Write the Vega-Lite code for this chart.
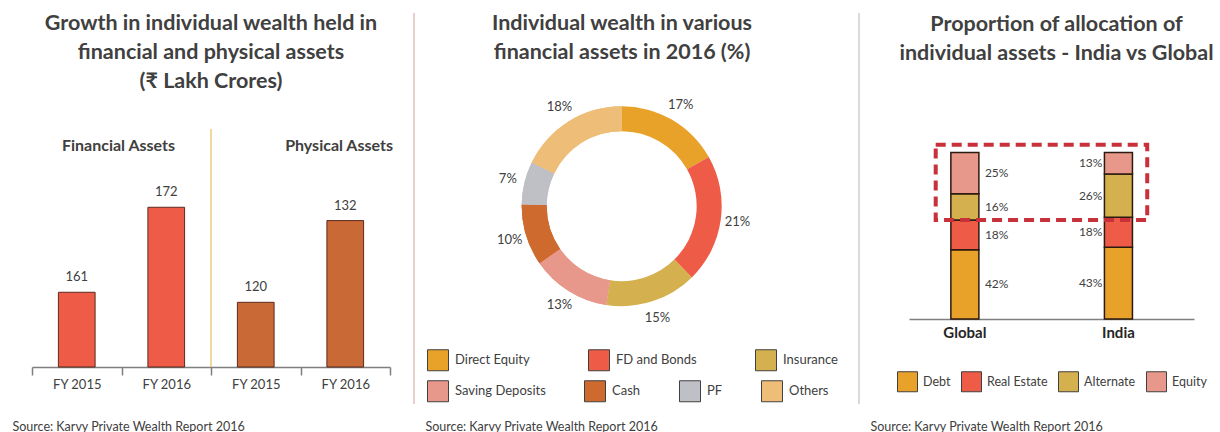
{
  "$schema": "https://vega.github.io/schema/vega-lite/v6.json",
  "background": "white",
  "padding": {"left": 12, "top": 12, "right": 0, "bottom": 0},
  "bounds": "flush",
  "spacing": 24,
  "config": {
    "view": {"stroke": null},
    "font": "Lato",
    "title": {"font": "Lato", "fontSize": 21.5, "fontWeight": "bold", "color": "#404040", "lineHeight": 29, "anchor": "middle", "frame": "group", "baseline": "top"}
  },
  "resolve": {"scale": {"color": "independent", "fill": "independent", "x": "independent", "y": "independent"}, "legend": {"color": "independent", "fill": "independent"}},
  "hconcat": [
    {
      "width": 358,
      "height": 354,
      "title": {"text": ["Growth in individual wealth held in", "financial and physical assets", "(₹ Lakh Crores)"], "offset": -79},
      "data": {"values": [
        {"group": "Financial", "key": "Financial|FY 2015", "value": 161},
        {"group": "Financial", "key": "Financial|FY 2016", "value": 172},
        {"group": "Physical", "key": "Physical|FY 2015", "value": 120},
        {"group": "Physical", "key": "Physical|FY 2016", "value": 132}
      ]},
      "encoding": {
        "x": {
          "field": "key", "type": "nominal",
          "scale": {"domain": ["Financial|FY 2015", "Financial|FY 2016", "Physical|FY 2015", "Physical|FY 2016"], "paddingInner": 0, "paddingOuter": 0},
          "axis": {
            "title": "Source: Karvy Private Wealth Report 2016",
            "titleFontSize": 12.5, "titleFontWeight": "normal", "titleColor": "#404040",
            "titleAnchor": "start", "titleAlign": "left", "titleBaseline": "middle", "titleX": -20, "titleY": 59,
            "labelExpr": "split(datum.label, '|')[1]", "labelFontSize": 13, "labelColor": "#404040", "labelPadding": 3, "labelAngle": 0,
            "domainColor": "#7f7f7f", "domainWidth": 1.5, "tickColor": "#7f7f7f", "tickWidth": 1.5, "tickSize": 8, "tickBand": "extent", "grid": false
          }
        }
      },
      "layer": [
        {
          "transform": [{"filter": "datum.group == 'Financial'"}],
          "encoding": {"y": {"field": "value", "type": "quantitative", "scale": {"domain": [151.33, 197.14], "zero": false, "nice": false}, "axis": null}},
          "layer": [
            {"mark": {"type": "bar", "width": {"band": 0.41}, "color": "#EE5B47", "stroke": "#5a2b1e", "strokeWidth": 1}, "encoding": {"y2": {"datum": 151.33}}},
            {"mark": {"type": "text", "baseline": "bottom", "dy": -8, "fontSize": 13, "color": "#404040"}, "encoding": {"text": {"field": "value", "type": "quantitative"}}}
          ]
        },
        {
          "transform": [{"filter": "datum.group == 'Physical'"}],
          "encoding": {"y": {"field": "value", "type": "quantitative", "scale": {"domain": [110.5, 162.48], "zero": false, "nice": false}, "axis": null}},
          "layer": [
            {"mark": {"type": "bar", "width": {"band": 0.41}, "color": "#C96A36", "stroke": "#5a2b1e", "strokeWidth": 1}, "encoding": {"y2": {"datum": 110.5}}},
            {"mark": {"type": "text", "baseline": "bottom", "dy": -8, "fontSize": 13, "color": "#404040"}, "encoding": {"text": {"field": "value", "type": "quantitative"}}}
          ]
        },
        {
          "layer": [
            {
              "data": {"values": [{"key": "Physical|FY 2015"}]},
              "mark": {"type": "rule", "color": "#E0B040", "strokeWidth": 1},
              "encoding": {
                "x": {"field": "key", "type": "nominal", "bandPosition": 0},
                "y": {"datum": 151.33, "scale": {"domain": [151.33, 197.14], "zero": false, "nice": false}, "axis": null},
                "y2": {"datum": 182.13}
              }
            },
            {
              "data": {"values": [{"heading": "Financial Assets", "key": "Financial|FY 2016"}]},
              "mark": {"type": "text", "fontSize": 16, "fontWeight": "bold", "color": "#404040", "baseline": "middle", "align": "center", "dx": -3},
              "encoding": {
                "x": {"field": "key", "type": "nominal", "bandPosition": 0},
                "y": {"datum": 179.93},
                "text": {"field": "heading"}
              }
            },
            {
              "data": {"values": [{"heading": "Physical Assets", "key": "Physical|FY 2016"}]},
              "mark": {"type": "text", "fontSize": 16, "fontWeight": "bold", "color": "#404040", "baseline": "middle", "align": "right", "dx": 3},
              "encoding": {
                "x": {"field": "key", "type": "nominal", "bandPosition": 1},
                "y": {"datum": 179.93},
                "text": {"field": "heading"}
              }
            }
          ]
        }
      ],
      "resolve": {"scale": {"y": "independent"}}
    },
    {
      "spacing": 50,
      "bounds": "flush",
      "resolve": {"scale": {"color": "independent", "fill": "independent", "x": "independent", "y": "independent"}, "legend": {"color": "independent", "fill": "independent"}},
      "hconcat": [
        {
          "width": 445,
          "height": 391,
          "title": {"text": ["Individual wealth in various", "financial assets in 2016 (%)"], "dx": -14.5, "offset": -51},
          "layer": [
            {
              "data": {"values": [{"edge": 0}, {"edge": 1}]},
              "mark": {"type": "rule", "strokeWidth": 1.2},
              "encoding": {
                "x": {
                  "field": "edge", "type": "quantitative", "scale": {"domain": [0, 1], "nice": false, "zero": false},
                  "axis": {
                    "title": "Source: Karvy Private Wealth Report 2016",
                    "titleFontSize": 12.5, "titleFontWeight": "normal", "titleColor": "#404040",
                    "titleAnchor": "start", "titleAlign": "left", "titleBaseline": "middle", "titleX": 11, "titleY": 22,
                    "domain": false, "ticks": false, "labels": false, "grid": false
                  }
                },
                "color": {"condition": {"test": "datum.edge == 0", "value": "#D9AFA8"}, "value": "#C8C0B8"}
              }
            },
            {
              "data": {"values": [
                {"asset": "Direct Equity", "share": 0.17},
                {"asset": "FD and Bonds", "share": 0.21},
                {"asset": "Insurance", "share": 0.15},
                {"asset": "Saving Deposits", "share": 0.13},
                {"asset": "Cash", "share": 0.10},
                {"asset": "PF", "share": 0.07},
                {"asset": "Others", "share": 0.18}
              ]},
              "transform": [{"window": [{"op": "row_number", "as": "rank"}]}],
              "encoding": {
                "theta": {"field": "share", "type": "quantitative", "stack": true},
                "order": {"field": "rank", "type": "quantitative", "sort": "ascending"},
                "x": {"datum": 0.4667},
                "y": {"datum": 0.506, "scale": {"domain": [0, 1], "nice": false, "zero": false}, "axis": null}
              },
              "layer": [
                {
                  "mark": {"type": "arc", "radius": 100, "radius2": 75},
                  "encoding": {
                    "fill": {
                      "field": "asset", "type": "nominal",
                      "scale": {"domain": ["Saving Deposits", "Cash", "PF", "Others"], "range": ["#E8988A", "#CF6A2E", "#BFBFC6", "#EEBE78"]},
                      "legend": {
                        "values": ["Saving Deposits", "Cash", "PF", "Others"],
                        "orient": "none", "legendX": 13, "legendY": 367, "direction": "horizontal", "columns": 4, "columnPadding": 36,
                        "title": null, "padding": 0, "symbolType": "square", "symbolSize": 441, "symbolStrokeColor": "#404040", "symbolStrokeWidth": 1, "symbolOpacity": 1,
                        "labelFontSize": 13, "labelColor": "#404040", "labelOffset": 6
                      }
                    }
                  }
                },
                {
                  "mark": {"type": "arc", "radius": 100, "radius2": 75},
                  "encoding": {
                    "color": {
                      "field": "asset", "type": "nominal",
                      "scale": {"domain": ["Direct Equity", "FD and Bonds", "Insurance", "Saving Deposits", "Cash", "PF", "Others"], "range": ["#E9A229", "#EE5B47", "#D4B04E", "#E8988A", "#CF6A2E", "#BFBFC6", "#EEBE78"]},
                      "legend": {
                        "values": ["Direct Equity", "FD and Bonds", "Insurance"],
                        "orient": "none", "legendX": 13, "legendY": 336, "direction": "horizontal", "columns": 3, "columnPadding": 56,
                        "title": null, "padding": 0, "symbolType": "square", "symbolSize": 441, "symbolStrokeColor": "#404040", "symbolStrokeWidth": 1, "symbolOpacity": 1,
                        "labelFontSize": 13, "labelColor": "#404040", "labelOffset": 6
                      }
                    }
                  }
                },
                {
                  "mark": {"type": "text", "radius": 117, "fontSize": 13, "color": "#404040"},
                  "encoding": {
                    "text": {"field": "share", "type": "quantitative", "format": ".0%"}
                  }
                }
              ]
            }
          ]
        },
        {
          "width": 285,
          "height": 306,
          "title": {"text": ["Proportion of allocation of", "individual assets - India vs Global"], "dx": 5, "offset": -51},
          "data": {"values": [
            {"region": "Global", "asset": "Debt", "share": 0.42},
            {"region": "Global", "asset": "Real Estate", "share": 0.18},
            {"region": "Global", "asset": "Alternate", "share": 0.16},
            {"region": "Global", "asset": "Equity", "share": 0.25},
            {"region": "India", "asset": "Debt", "share": 0.43},
            {"region": "India", "asset": "Real Estate", "share": 0.18},
            {"region": "India", "asset": "Alternate", "share": 0.26},
            {"region": "India", "asset": "Equity", "share": 0.13}
          ]},
          "transform": [{"window": [{"op": "row_number", "as": "rank"}]}],
          "encoding": {
            "x": {
              "field": "region", "type": "nominal",
              "scale": {"domain": ["Global", "India"], "paddingInner": 0.5, "paddingOuter": 0.178, "align": 0.32},
              "axis": {
                "title": "Source: Karvy Private Wealth Report 2016",
                "titleFontSize": 12.5, "titleFontWeight": "normal", "titleColor": "#404040",
                "titleAnchor": "start", "titleAlign": "left", "titleBaseline": "middle", "titleX": -39, "titleY": 107,
                "labelFontSize": 15, "labelFontWeight": "bold", "labelColor": "#262626", "labelPadding": 6, "labelAngle": 0,
                "ticks": false, "domainColor": "#7f7f7f", "domainWidth": 1.5, "grid": false
              }
            }
          },
          "layer": [
            {
              "mark": {"type": "bar", "width": {"band": 0.365}, "stroke": "#2a1a10", "strokeWidth": 1.5},
              "encoding": {
                "y": {"field": "share", "type": "quantitative", "stack": "normalize", "scale": {"domain": [0, 1.8367], "nice": false}, "axis": null},
                "order": {"field": "rank", "type": "quantitative", "sort": "ascending"},
                "color": {
                  "field": "asset", "type": "nominal",
                  "scale": {"domain": ["Debt", "Real Estate", "Alternate", "Equity"], "range": ["#E9A229", "#EE5B47", "#D4B04E", "#E8988A"]},
                  "legend": {
                    "orient": "none", "legendX": -12, "legendY": 358, "direction": "horizontal", "columns": 4, "columnPadding": 8,
                    "title": null, "padding": 0, "symbolType": "square", "symbolSize": 400, "symbolStrokeColor": "#404040", "symbolStrokeWidth": 1,
                    "labelFontSize": 12.5, "labelColor": "#404040", "labelOffset": 5
                  }
                }
              }
            },
            {
              "transform": [{"filter": "datum.region == 'Global'"}],
              "mark": {"type": "text", "align": "left", "baseline": "middle", "dx": 20, "fontSize": 12, "color": "#404040"},
              "encoding": {
                "y": {"field": "share", "type": "quantitative", "stack": "normalize", "bandPosition": 0.5},
                "order": {"field": "rank", "type": "quantitative", "sort": "ascending"},
                "text": {"field": "share", "type": "quantitative", "format": ".0%"}
              }
            },
            {
              "transform": [{"filter": "datum.region == 'India'"}],
              "mark": {"type": "text", "align": "right", "baseline": "middle", "dx": -16, "fontSize": 12, "color": "#404040"},
              "encoding": {
                "y": {"field": "share", "type": "quantitative", "stack": "normalize", "bandPosition": 0.5},
                "order": {"field": "rank", "type": "quantitative", "sort": "ascending"},
                "text": {"field": "share", "type": "quantitative", "format": ".0%"}
              }
            },
            {
              "data": {"values": [{"from": "Global", "to": "India"}]},
              "mark": {"type": "rect", "filled": false, "stroke": "#C8303A", "strokeWidth": 4, "strokeDash": [10, 6]},
              "encoding": {
                "x": {"field": "from", "type": "nominal", "bandPosition": 0.12},
                "x2": {"field": "to", "bandPosition": 0.875},
                "y": {"datum": 0.594},
                "y2": {"datum": 1.046}
              }
            }
          ]
        }
      ]
    }
  ]
}
